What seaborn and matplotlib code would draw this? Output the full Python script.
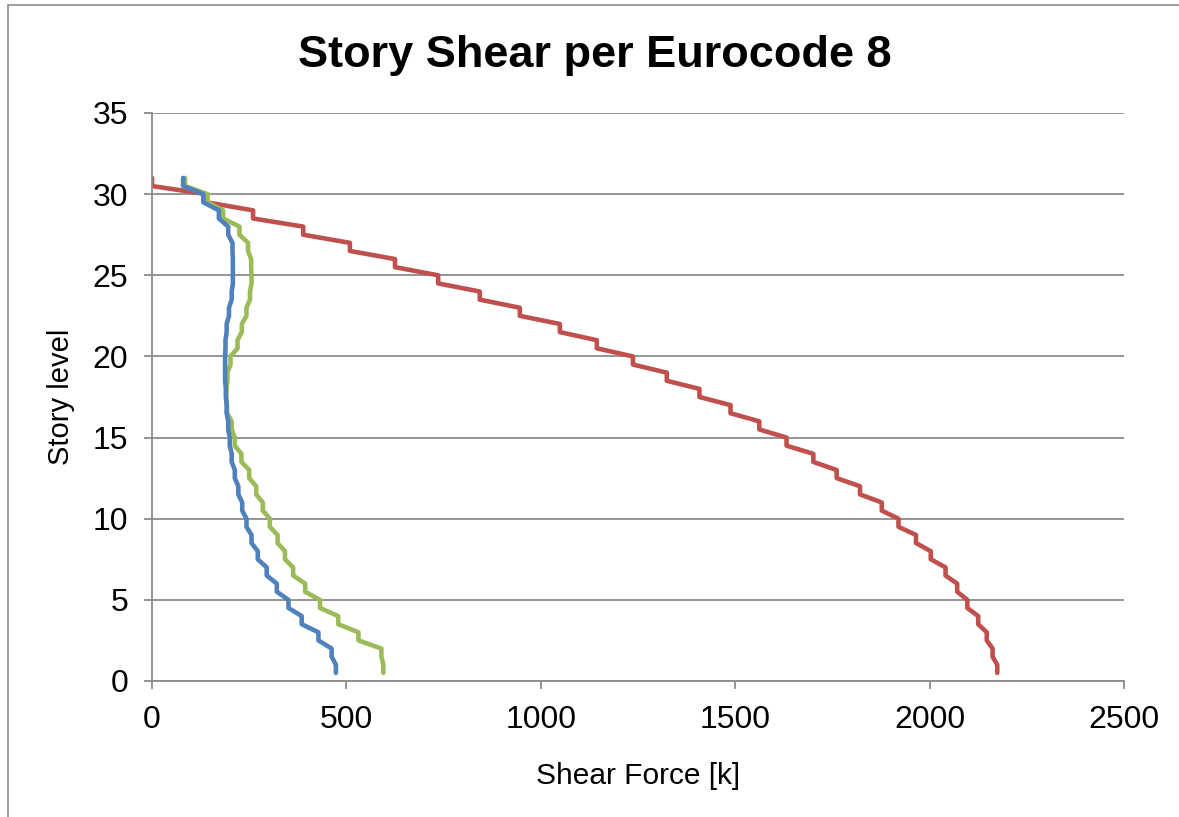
import numpy as np
import pandas as pd
import matplotlib
matplotlib.use("Agg")
import matplotlib.pyplot as plt
from matplotlib.patches import Rectangle
import seaborn as sns

# Story levels, from roof (31) down to level 1
levels = list(range(31, 0, -1))

# Story shear [k] at each level, listed roof first
shear_red = [0, 140, 260, 389, 509, 625, 736, 843, 946, 1049, 1144,
             1237, 1324, 1408, 1488, 1562, 1632, 1701, 1761, 1821, 1877,
             1920, 1965, 2003, 2041, 2071, 2097, 2125, 2147, 2162, 2174]
shear_green = [85, 143, 183, 225, 247, 255, 256, 252, 243, 231, 220,
               202, 194, 191, 193, 205, 213, 230, 250, 268, 285,
               303, 323, 342, 363, 394, 432, 479, 531, 590, 595]
shear_blue = [80, 132, 172, 196, 207, 208, 208, 205, 198, 192, 189,
              188, 188, 190, 192, 196, 200, 205, 213, 222, 232,
              243, 256, 272, 295, 321, 351, 385, 428, 462, 473]

series_names = ["Series 2", "Series 3", "Series 1"]
series_values = [shear_red, shear_green, shear_blue]
series_colors = ["#C0504D", "#9BBB59", "#4F81BD"]

x_ticks = [0, 500, 1000, 1500, 2000, 2500]
y_ticks = [0, 5, 10, 15, 20, 25, 30, 35]


def stepped_profile(name, values):
    """Each level holds its shear over the upper half of the story."""
    rows = []
    for lvl, v in zip(levels, values):
        rows.append((name, v, lvl))
        rows.append((name, v, lvl - 0.5))
    return rows


rows = []
for name, vals in zip(series_names, series_values):
    rows += stepped_profile(name, vals)
df = pd.DataFrame(rows, columns=["series", "shear", "level"])

sns.set_theme(style="white")
plt.rcParams["font.family"] = ["Liberation Sans", "DejaVu Sans"]

fig = plt.figure(figsize=(11.79, 8.17), dpi=100)
ax = fig.add_axes([152 / 1179, 1 - 681 / 817, 972 / 1179, 568 / 817])

sns.lineplot(
    data=df, x="shear", y="level", hue="series",
    hue_order=series_names, palette=series_colors,
    sort=False, estimator=None, legend=False, ax=ax,
    linewidth=3.3, solid_capstyle="round", solid_joinstyle="round",
)

grid_color = "#8C8C8C"
ax.set_xlim(0, 2500)
ax.set_ylim(0, 35)
ax.set_xticks(x_ticks)
ax.set_yticks(y_ticks)
ax.yaxis.grid(True, color=grid_color, linewidth=1.3)
ax.xaxis.grid(False)
ax.set_axisbelow(True)
for side in ("top", "right"):
    ax.spines[side].set_visible(False)
for side in ("left", "bottom"):
    ax.spines[side].set_color(grid_color)
    ax.spines[side].set_linewidth(1.3)
ax.tick_params(axis="both", which="major", direction="out", length=6,
               width=1.3, color=grid_color, labelsize=23, labelcolor="black",
               left=True, bottom=True)
ax.tick_params(axis="x", pad=11)
ax.tick_params(axis="y", pad=11)

ax.set_xlabel("Shear Force [k]", fontsize=21.5, color="black", labelpad=20)
ax.set_ylabel("Story level", fontsize=21, color="black", labelpad=13)

fig.text(595 / 1179, 1 - 56 / 817, "Story Shear per Eurocode 8",
         ha="center", va="center", fontsize=32.5, fontweight="bold",
         color="black")

# Chart-area frame
fig.patches.append(Rectangle((8 / 1179, -0.05), 1.2, 1.05 - 5 / 817,
                             transform=fig.transFigure, fill=False,
                             edgecolor="#8C8C8C", linewidth=1.2))

fig.savefig("out.png", dpi=100, facecolor="white")
